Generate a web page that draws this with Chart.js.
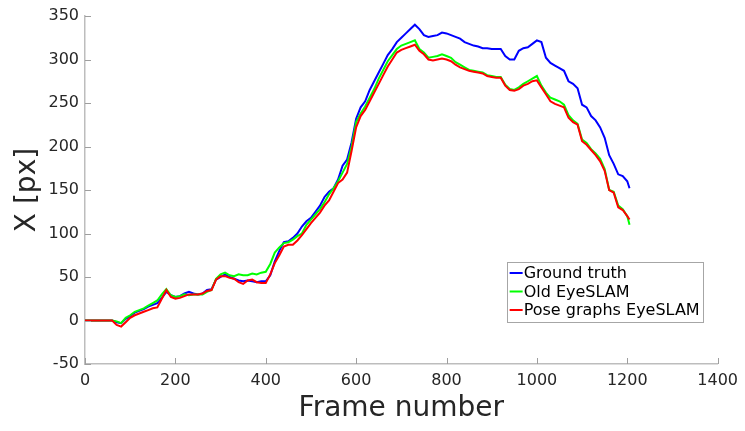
<!DOCTYPE html>
<html>
<head>
<meta charset="utf-8">
<script src="https://cdn.jsdelivr.net/npm/chart.js@4"></script>
<style>
  html, body { margin: 0; padding: 0; background: #fff; }
  canvas { display: block; }
</style>
</head>
<body>
<canvas id="trackCanvas" width="745" height="431"></canvas>
<script>
// --- Data ---
const frames = [
  0, 10, 20, 30, 40, 50, 60, 70, 80, 90,
  100, 110, 120, 130, 140, 150, 160, 170, 180, 190,
  200, 210, 220, 230, 240, 250, 260, 270, 280, 290,
  300, 310, 320, 330, 340, 350, 360, 370, 380, 390,
  400, 410, 420, 430, 440, 450, 460, 470, 480, 490,
  500, 510, 520, 530, 540, 550, 560, 570, 580, 590,
  600, 610, 620, 630, 640, 650, 660, 670, 680, 690,
  700, 710, 720, 730, 740, 750, 760, 770, 780, 790,
  800, 810, 820, 830, 840, 850, 860, 870, 880, 890,
  900, 910, 920, 930, 940, 950, 960, 970, 980, 990,
  1000, 1010, 1020, 1030, 1040, 1050, 1060, 1070, 1080, 1090,
  1100, 1110, 1120, 1130, 1140, 1150, 1160, 1170, 1180, 1190,
  1200, 1205
];

const groundTruth = [
  0, 0, 0, 0, 0, 0, 0, -2, -3, 2,
  5, 9, 11, 13, 16, 18, 20, 26, 33, 29,
  27, 28, 31, 33, 31, 30, 31, 35, 36, 47,
  50, 53, 50, 48, 46, 45, 46, 45, 44, 45,
  45, 52, 68, 80, 90, 91, 95, 100, 108, 114,
  118, 125, 132, 142, 148, 152, 162, 178, 185, 205,
  232, 245, 252, 265, 275, 285, 295, 305, 312, 320,
  325, 330, 335, 340, 335, 328, 326, 327, 328, 331,
  330, 328, 326, 324, 320, 318, 316, 315, 313, 313,
  312, 312, 312, 304, 300, 300, 310, 313, 314, 318,
  322, 320, 302, 296, 293, 290, 287, 275, 272, 267,
  248, 245, 235, 230, 222, 210, 190, 180, 168, 166,
  160, 152
];

const oldEyeSlam = [
  0, 0, 0, 0, 0, 0, 0, -1, -3, 3,
  6, 10, 12, 14, 17, 20, 23, 30, 36, 29,
  27, 28, 30, 29, 30, 30, 30, 33, 35, 48,
  53, 55, 52, 51, 53, 52, 52, 54, 53, 55,
  56, 65, 78, 84, 89, 90, 93, 97, 100, 110,
  116, 122, 128, 136, 145, 152, 160, 170, 180, 200,
  228, 238, 246, 256, 266, 278, 288, 298, 305, 312,
  316, 318, 320, 322, 312, 308, 302, 303, 304, 306,
  304, 302, 297, 294, 291, 288, 287, 286, 285, 282,
  281, 280, 280, 271, 266, 265, 268, 272, 275, 278,
  281, 270, 262, 256, 254, 252, 248, 236, 230, 226,
  208, 204, 197, 192, 186, 174, 150, 148, 132, 128,
  120, 110
];

const poseGraphEyeSlam = [
  0, 0, 0, 0, 0, 0, 0, -5, -7, -2,
  3, 6, 8, 10, 12, 14, 15, 25, 35, 27,
  25, 26, 28, 30, 30, 30, 31, 34, 35, 47,
  51, 51, 49, 48, 44, 42, 46, 47, 44, 43,
  43, 53, 66, 75, 85, 87, 87, 92, 98, 105,
  112, 118, 124, 132, 138, 148, 158, 162, 170, 195,
  222, 235, 242, 252, 262, 272, 282, 292, 300, 308,
  311, 313, 315, 317, 310, 306, 300, 299, 300, 301,
  300, 298, 294, 291, 289, 287, 286, 285, 284, 281,
  280, 279, 279, 270, 265, 264, 266, 270, 272, 275,
  276, 268, 260, 252, 249, 247, 245, 233, 228, 225,
  206, 202, 196, 190, 183, 172, 150, 147, 130, 127,
  120, 116
];

const seriesLabels = ['Ground truth', 'Old EyeSLAM', 'Pose graphs EyeSLAM'];
const seriesColors = ['#0000ff', '#00ff00', '#ff0000'];
const xTicks = [0, 200, 400, 600, 800, 1000, 1200, 1400];
const yTicks = [-50, 0, 50, 100, 150, 200, 250, 300, 350];

const FONT = '"DejaVu Sans", "Liberation Sans", sans-serif';
const TEXT_COLOR = '#262626';
const AXIS_COLOR = '#bdbdbd';

function toPoints(values) {
  return frames.map((f, i) => ({ x: f, y: values[i] }));
}

// --- Small inward tick marks, MATLAB style ---
const innerTicks = {
  id: 'innerTicks',
  afterDatasetsDraw(chart) {
    const { ctx, chartArea, scales } = chart;
    ctx.save();
    ctx.strokeStyle = '#9e9e9e';
    ctx.lineWidth = 1;
    ctx.beginPath();
    xTicks.forEach(v => {
      const px = Math.round(scales.x.getPixelForValue(v)) + 0.5;
      ctx.moveTo(px, chartArea.bottom);
      ctx.lineTo(px, chartArea.bottom - 6);
    });
    yTicks.forEach(v => {
      const py = Math.round(scales.y.getPixelForValue(v)) + 0.5;
      ctx.moveTo(chartArea.left, py);
      ctx.lineTo(chartArea.left + 6, py);
    });
    ctx.stroke();
    ctx.restore();
  }
};

// --- Legend box drawn inside the plot area (bottom right) ---
const insideLegend = {
  id: 'insideLegend',
  afterDraw(chart) {
    const { ctx, chartArea } = chart;
    const boxW = 196, boxH = 60;
    const x0 = chartArea.right - 15 - boxW;
    const y0 = chartArea.bottom - 42 - boxH;
    ctx.save();
    ctx.fillStyle = '#ffffff';
    ctx.fillRect(x0, y0, boxW, boxH);
    ctx.strokeStyle = '#a6a6a6';
    ctx.lineWidth = 1;
    ctx.strokeRect(Math.round(x0) + 0.5, Math.round(y0) + 0.5, boxW, boxH);
    ctx.font = '16px ' + FONT;
    ctx.textBaseline = 'middle';
    seriesLabels.forEach((label, i) => {
      const cy = y0 + 11 + i * 18.5;
      ctx.strokeStyle = seriesColors[i];
      ctx.lineWidth = 2;
      ctx.beginPath();
      ctx.moveTo(x0 + 3, cy);
      ctx.lineTo(x0 + 16, cy);
      ctx.stroke();
      ctx.fillStyle = '#000';
      ctx.fillText(label, x0 + 17, cy + 1);
    });
    ctx.restore();
  }
};

const datasets = [groundTruth, oldEyeSlam, poseGraphEyeSlam].map((vals, i) => ({
  label: seriesLabels[i],
  data: toPoints(vals),
  borderColor: seriesColors[i],
  backgroundColor: seriesColors[i],
  borderWidth: 2,
  pointRadius: 0,
  tension: 0,
  fill: false,
  order: 2 - i // red on top, blue at the back
}));

const ctx = document.getElementById('trackCanvas').getContext('2d');
new Chart(ctx, {
  type: 'line',
  data: { datasets: datasets },
  options: {
    responsive: false,
    animation: false,
    layout: { padding: { top: 16, right: 23, bottom: 0, left: 0 } },
    plugins: {
      legend: { display: false },
      tooltip: { enabled: false }
    },
    scales: {
      x: {
        type: 'linear',
        min: 0,
        max: 1400,
        afterBuildTicks: s => { s.ticks = xTicks.map(v => ({ value: v })); },
        afterFit: s => { s.height = 67; },
        grid: { drawOnChartArea: false, drawTicks: false },
        border: { display: true, color: AXIS_COLOR, width: 1.5 },
        ticks: {
          padding: 7,
          maxRotation: 0,
          color: TEXT_COLOR,
          font: { family: FONT, size: 16 },
          callback: v => String(v)
        },
        title: {
          display: true,
          text: 'Frame number',
          color: TEXT_COLOR,
          font: { family: FONT, size: 28, lineHeight: 1.2 },
          padding: { top: 0, bottom: 5 }
        }
      },
      y: {
        type: 'linear',
        min: -50,
        max: 350,
        afterBuildTicks: s => { s.ticks = yTicks.map(v => ({ value: v })); },
        afterFit: s => { s.width = 85; },
        grid: { drawOnChartArea: false, drawTicks: false },
        border: { display: true, color: AXIS_COLOR, width: 1.5 },
        ticks: {
          padding: 6,
          color: TEXT_COLOR,
          font: { family: FONT, size: 16 },
          callback: v => String(v)
        },
        title: {
          display: true,
          text: 'X [px]',
          color: TEXT_COLOR,
          font: { family: FONT, size: 28, lineHeight: 1.2 },
          padding: { top: 11, bottom: 0 }
        }
      }
    }
  },
  plugins: [innerTicks, insideLegend]
});
</script>
</body>
</html>
